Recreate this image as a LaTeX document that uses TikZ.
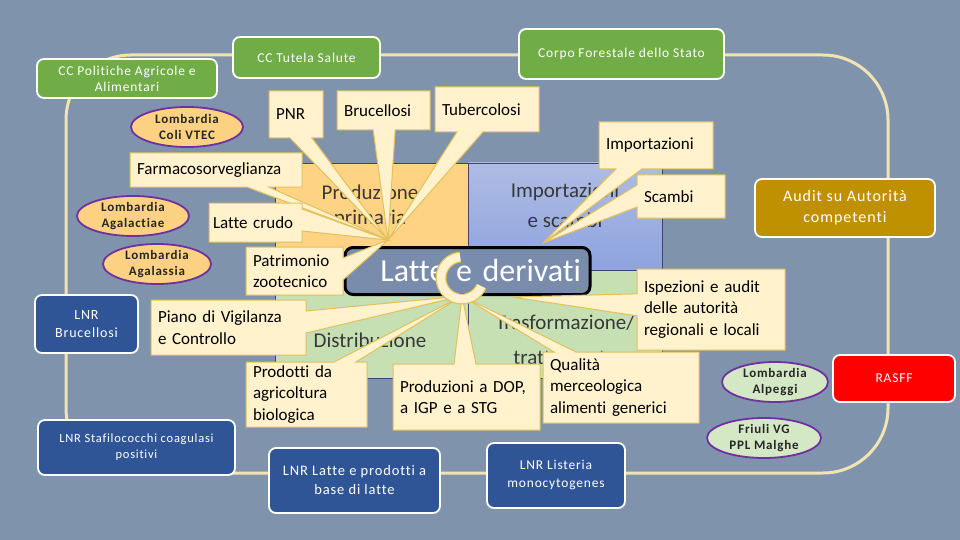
\documentclass[tikz,border=0pt]{standalone}
\usepackage{fontspec}
\setmainfont[Ligatures=CommonOff]{Carlito}
\newfontfamily\spacedfamily[LetterSpace=6,Ligatures=CommonOff]{Carlito}
\usetikzlibrary{shapes.geometric,shapes.callouts}
\definecolor{bgColor}{RGB}{128,147,173}
\definecolor{ringColor}{RGB}{242,228,178}
\definecolor{ccColor}{RGB}{112,173,71}
\definecolor{lnrColor}{RGB}{47,85,151}
\definecolor{auditColor}{RGB}{191,144,0}
\definecolor{rasffColor}{RGB}{255,0,0}
\definecolor{noteFill}{RGB}{255,242,204}
\definecolor{noteLine}{RGB}{226,192,92}
\definecolor{ovalOrange}{RGB}{252,210,130}
\definecolor{ovalGreen}{RGB}{213,232,198}
\definecolor{ovalLine}{RGB}{112,48,160}
\definecolor{primColor}{RGB}{255,211,132}
\definecolor{impTop}{RGB}{174,188,228}
\definecolor{impBottom}{RGB}{142,163,222}
\definecolor{distColor}{RGB}{198,224,180}
\definecolor{quadLine}{RGB}{70,66,110}
\definecolor{quadText}{RGB}{56,56,56}
\definecolor{coreColor}{RGB}{122,140,172}
\newcommand{\boxfont}{\spacedfamily\fontsize{13.5}{16}\selectfont}
\newcommand{\auditfont}{\spacedfamily\fontsize{16}{21}\selectfont}
\newcommand{\notefont}{\fontsize{17}{21.5}\selectfont}
\newcommand{\ovalfont}{\spacedfamily\fontsize{13}{16}\selectfont\bfseries}
\newcommand{\quadfont}{\fontsize{21}{25}\selectfont}
\newcommand{\corefont}{\fontsize{32}{34}\selectfont}

\begin{document}
\begin{tikzpicture}[x=1pt, y=-1pt,
    ring/.style={draw=ringColor, line width=3pt, rounded corners=65pt},
    ccbox/.style={draw=white, line width=1.8pt, rounded corners=7pt, fill=ccColor, text=white, align=center, font=\boxfont, inner sep=2pt},
    lnrbox/.style={ccbox, fill=lnrColor},
    oval/.style={ellipse, draw=ovalLine, line width=1.8pt, fill=ovalOrange, text=black!85, align=center, font=\ovalfont, inner sep=0pt},
    note/.style={rectangle callout, draw=noteLine, line width=1pt, fill=noteFill, callout pointer width=22pt, align=left, font=\notefont, inner xsep=7pt, inner ysep=2pt},
    quad/.style={draw=quadLine, line width=0.7pt, inner sep=0pt},
    quadlabel/.style={text=quadText, align=center, font=\quadfont}
  ]
  \fill[bgColor] (0,0) rectangle (960,540);
  \useasboundingbox (0,0) rectangle (960,540);

  \coordinate (ringNW) at (66,55);
  \coordinate (ringSE) at (888,473);
  \draw[ring] (ringNW) rectangle (ringSE);

  \node[ccbox, minimum width=180pt, minimum height=39pt] (politiche) at (127,78.5) {CC Politiche Agricole e\\Alimentari};
  \node[ccbox, minimum width=147pt, minimum height=41pt] (tutela) at (306.5,57.5) {CC Tutela Salute};
  \node[ccbox, minimum width=205pt, minimum height=50pt] (forestale) at (621.5,54) {Corpo Forestale dello Stato};
  \node[ccbox, fill=auditColor, font=\auditfont, minimum width=180pt, minimum height=58pt] (audit) at (845,208) {Audit su Autorità\\competenti};
  \node[ccbox, fill=rasffColor, minimum width=122pt, minimum height=47pt] (rasff) at (894,378.5) {RASFF};
  \node[lnrbox, font=\spacedfamily\fontsize{14}{18}\selectfont, minimum width=103pt, minimum height=58pt] (lnrBru) at (86.5,324) {LNR\\Brucellosi};
  \node[lnrbox, font=\spacedfamily\fontsize{12.5}{16}\selectfont, minimum width=197pt, minimum height=55pt] (lnrStaf) at (136.5,447.5) {LNR Stafilococchi coagulasi\\positivi};
  \node[lnrbox, font=\spacedfamily\fontsize{14.5}{19}\selectfont, minimum width=171pt, minimum height=65pt] (lnrLatte) at (354.5,480.5) {LNR Latte e prodotti a\\base di latte};
  \node[lnrbox, font=\spacedfamily\fontsize{13.5}{18}\selectfont, minimum width=138pt, minimum height=65pt] (lnrList) at (556,475.5) {LNR Listeria\\monocytogenes};

  \node[oval, minimum width=112pt, minimum height=40pt] (coli) at (187,127) {Lombardia\\Coli VTEC};
  \node[oval, minimum width=112pt, minimum height=40pt] (agalactiae) at (133,216) {Lombardia\\Agalactiae};
  \node[oval, minimum width=108pt, minimum height=40pt] (agalassia) at (157,264) {Lombardia\\Agalassia};
  \node[oval, fill=ovalGreen, minimum width=106pt, minimum height=40pt] (alpeggi) at (775,382) {Lombardia\\Alpeggi};
  \node[oval, fill=ovalGreen, minimum width=114pt, minimum height=40pt] (malghe) at (764,438) {Friuli VG\\PPL Malghe};

  \node[quad, fill=primColor, minimum width=193pt, minimum height=107pt] (prim) at (371.5,216.5) {};
  \node[quad, top color=impTop, bottom color=impBottom, minimum width=194pt, minimum height=107pt] (imp) at (565,216.5) {};
  \node[quad, fill=distColor, minimum width=193pt, minimum height=108pt] (dist) at (371.5,324) {};
  \node[quad, fill=distColor, minimum width=194pt, minimum height=108pt] (trans) at (565,324) {};
  \node[quadlabel] (primLbl) at (370,206) {Produzione\\primaria};
  \node[quadlabel, font=\fontsize{21}{30}\selectfont] (impLbl) at (565,205) {Importazioni\\e scambi};
  \node[quadlabel] (distLbl) at (370,340) {Distribuzione};
  \node[quadlabel, font=\fontsize{21}{35}\selectfont] (transLbl) at (565,340) {Trasformazione/\\trattamento};

  \node[draw=black, line width=3pt, rounded corners=8pt, fill=coreColor, text=white, font=\corefont, text width=227pt, align=right, inner xsep=9pt, minimum height=47pt] (core) at (467.5,271) {Latte e derivati};

  \coordinate (p1) at (388,240);
  \coordinate (p2) at (543,243);
  \coordinate (p3) at (462,296);
  \coordinate (p4) at (512,297);

  \node[note, callout absolute pointer={(p1)}, text width=40pt, minimum height=47pt] (pnr) at (296,114.5) {PNR};
  \node[note, callout absolute pointer={(p1)}, text width=79pt, minimum height=39pt] (bruc) at (383.5,110.5) {Brucellosi};
  \node[note, callout absolute pointer={(p1)}, callout pointer width=26pt, text width=90pt, minimum height=45pt] (tuberc) at (487,109.5) {Tubercolosi};
  \node[note, callout absolute pointer={(p1)}, text width=158pt, minimum height=34pt] (farmaco) at (216,170) {Farmacosorveglianza};
  \node[note, callout absolute pointer={(p1)}, inner xsep=4pt, text width=85pt, minimum height=39pt] (crudo) at (255.5,222.5) {Latte crudo};
  \node[note, callout absolute pointer={(p1)}, text width=83pt, minimum height=48pt] (patrim) at (294.5,271) {Patrimonio\\zootecnico};
  \node[note, callout absolute pointer={(p2)}, callout pointer width=26pt, text width=100pt, minimum height=47pt] (importaz) at (656,145.5) {Importazioni};
  \node[note, callout absolute pointer={(p2)}, text width=74pt, minimum height=43pt] (scambi) at (681,196.5) {Scambi};
  \node[note, callout absolute pointer={(p4)}, text width=134pt, minimum height=81pt] (ispez) at (711,309.5) {Ispezioni e audit\\delle autorità\\regionali e locali};
  \node[note, callout absolute pointer={(p3)}, text width=141pt, minimum height=55pt] (piano) at (228.5,327.5) {Piano di Vigilanza\\e Controllo};
  \node[note, callout absolute pointer={(p3)}, text width=107pt, minimum height=65pt] (biolog) at (306.5,394.5) {Prodotti da\\agricoltura\\biologica};
  \node[note, callout absolute pointer={(p3)}, text width=133pt, minimum height=66pt] (dop) at (466.5,397) {Produzioni a DOP,\\a IGP e a STG};
  \node[note, callout absolute pointer={(p3)}, text width=142pt, minimum height=71pt] (qualita) at (621,387.5) {Qualità\\merceologica\\alimenti generici};

  \coordinate (cmark) at (462,278);
  \draw[noteLine, line width=11pt] plot[domain=95:337, samples=50] ({462+21*cos(\x)}, {278-21*sin(\x)});
  \draw[noteFill, line width=8.5pt] plot[domain=95:337, samples=50] ({462+21*cos(\x)}, {278-21*sin(\x)});
\end{tikzpicture}
\end{document}
